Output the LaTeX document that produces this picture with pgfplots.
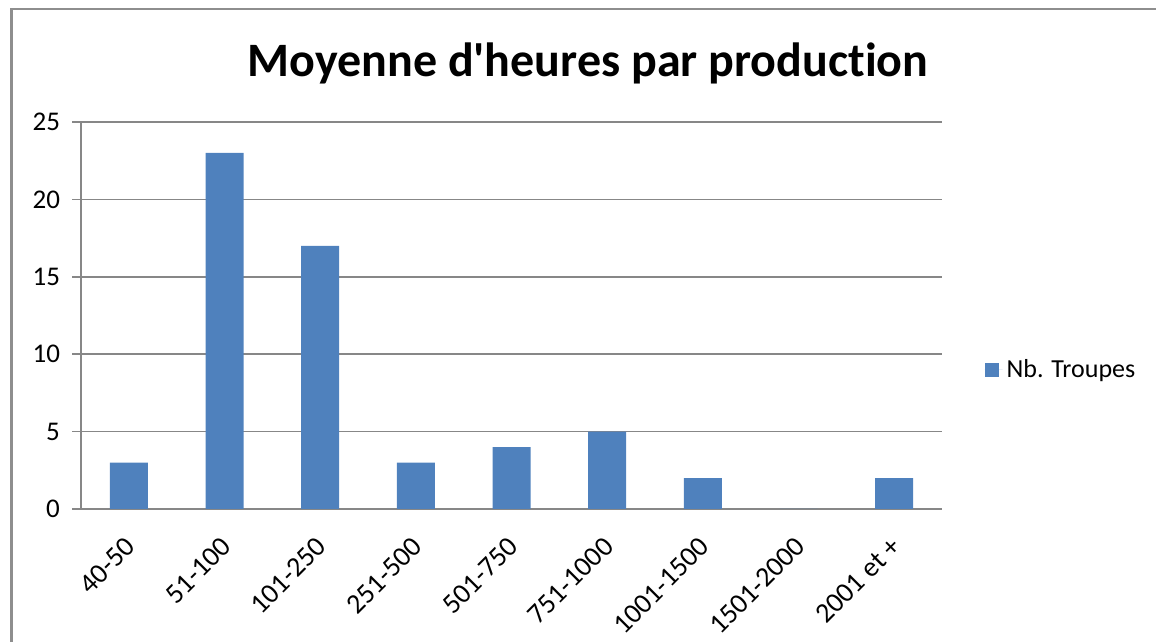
\documentclass[border=0pt]{standalone}
\usepackage{pgfplots}
\pgfplotsset{compat=1.18}
\usepackage{fontspec}
\setmainfont{Carlito}[Ligatures={TeXOff,NoCommon}]
\definecolor{barblue}{HTML}{4F81BD}
\definecolor{gridgray}{HTML}{878787}
\definecolor{framegray}{HTML}{8E8E8E}
\begin{document}
\begin{tikzpicture}[x=1pt,y=1pt]
% 1 px of the reference = 0.5pt
\useasboundingbox (0,0) rectangle (578,321);
\draw[framegray, line width=1.2pt] (5.8,0) -- (5.8,316.5) -- (578,316.5);
\node[anchor=base, font=\fontsize{24}{28}\selectfont\bfseries] at (294,282.5) {Moyenne d'heures par production};
\begin{axis}[
    at={(40.5pt,66.5pt)}, anchor=south west,
    scale only axis,
    width=430.5pt, height=193.5pt,
    ybar, bar width=19pt,
    xmin=-0.5, xmax=8.5,
    ymin=0, ymax=25,
    ytick={0,5,10,15,20,25},
    xtick={0,1,2,3,4,5,6,7,8},
    xticklabels={40-50,51-100,101-250,251-500,501-750,751-1000,1001-1500,1501-2000,2001 et +},
    major x tick style={draw=none},
    extra x ticks={-0.5,0.5,1.5,2.5,3.5,4.5,5.5,6.5,7.5,8.5},
    extra x tick labels={},
    extra x tick style={major tick length=4pt, tick style={gridgray, line width=0.75pt}},
    axis lines=left,
    axis line style={-, gridgray, line width=0.75pt},
    tick align=outside,
    major tick length=4.5pt,
    tick style={gridgray, line width=0.75pt},
    ymajorgrids,
    grid style={gridgray, line width=0.75pt},
    /pgf/number format/assume math mode=true,
    yticklabel style={font=\fontsize{13.5}{15}\selectfont, xshift=-2.5pt},
    xticklabel style={font=\fontsize{14}{16}\selectfont, xshift=-2.5pt, yshift=-4pt, rotate=45, anchor=north east},
    legend style={at={(1.049,0.36)}, anchor=west, draw=none, fill=none,
        font=\fontsize{13}{15}\selectfont, inner sep=0pt},
    legend image code/.code={\path (0pt,0pt) -- (9pt,0pt);
        \fill[barblue] (0pt,-3.5pt) rectangle (7pt,3.5pt);},
]
\addplot[fill=barblue, draw=none] coordinates {
    (0,3) (1,23) (2,17) (3,3) (4,4) (5,5) (6,2) (7,0) (8,2)
};
\addlegendentry{Nb. Troupes}
\end{axis}
\end{tikzpicture}
\end{document}
